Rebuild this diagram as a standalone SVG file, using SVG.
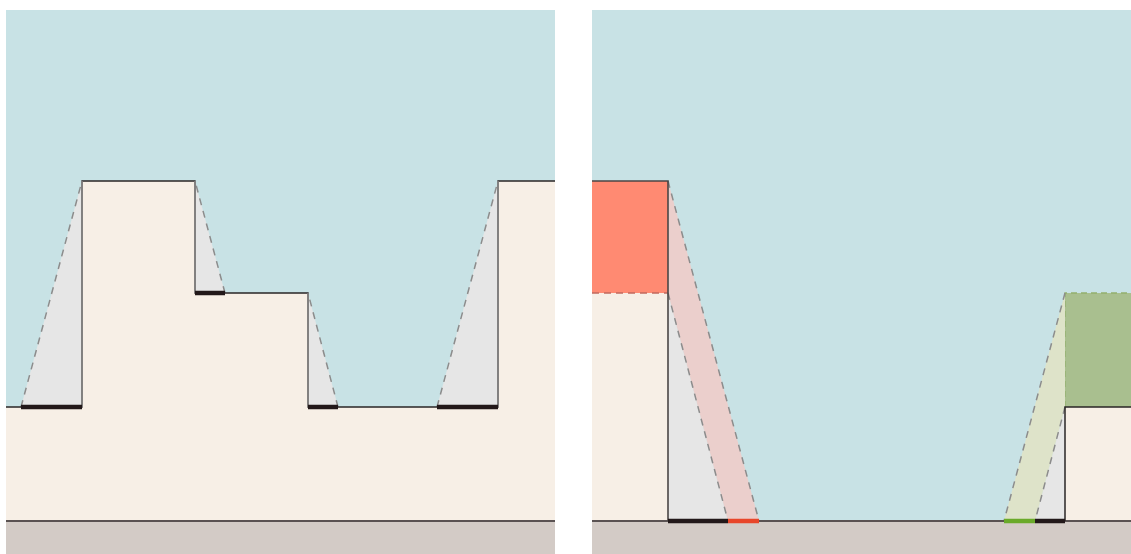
<svg xmlns="http://www.w3.org/2000/svg" width="1131" height="554" viewBox="0 0 1131 554">
<style>
.sky{fill:#c8e2e5}
.cream{fill:#f7efe6}
.ground{fill:#d3cbc6}
.shadow{fill:#e6e6e6}
.outline{fill:none;stroke:#2a2626;stroke-width:1.3}
.vedge{fill:none;stroke:#8a8888;stroke-width:1.5}
.dash{fill:none;stroke:#8c8c8c;stroke-width:1.5;stroke-dasharray:7 6}
.bar{stroke:#221819;stroke-width:4.5}
.gline{stroke:#5a5252;stroke-width:2}
</style>
<rect width="1131" height="554" fill="#ffffff"/>
<g id="left-panel">
  <rect class="sky" x="6" y="10" width="549" height="544"/>
  <polygon class="cream" points="6,407 82,407 82,181 195,181 195,293 308,293 308,407 498,407 498,181 555,181 555,521 6,521"/>
  <rect class="ground" x="6" y="521" width="549" height="33"/>
  <line class="gline" x1="6" y1="521" x2="555" y2="521"/>
  <g id="shadow-1">
    <polygon class="shadow" points="82,181 82,407 21,407"/>
    <line class="dash" x1="21" y1="407" x2="82" y2="181"/>
  </g>
  <g id="shadow-2">
    <polygon class="shadow" points="195,181 195,293 225,293"/>
    <line class="dash" x1="225" y1="293" x2="195" y2="181"/>
  </g>
  <g id="shadow-3">
    <polygon class="shadow" points="308,293 308,407 338,407"/>
    <line class="dash" x1="338" y1="407" x2="308" y2="293"/>
  </g>
  <g id="shadow-4">
    <polygon class="shadow" points="498,181 498,407 437,407"/>
    <line class="dash" x1="437" y1="407" x2="498" y2="181"/>
  </g>
  <polyline class="outline" points="6,407 82,407 82,181 195,181 195,293 308,293 308,407 498,407 498,181 555,181"/>
  <line class="vedge" x1="82" y1="181" x2="82" y2="407"/>
  <line class="vedge" x1="195" y1="181" x2="195" y2="293"/>
  <line class="vedge" x1="308" y1="293" x2="308" y2="407"/>
  <line class="vedge" x1="498" y1="181" x2="498" y2="407"/>
  <g id="bars-left">
    <line class="bar" x1="21" y1="407" x2="82" y2="407"/>
    <line class="bar" x1="195" y1="293" x2="225" y2="293"/>
    <line class="bar" x1="308" y1="407" x2="338" y2="407"/>
    <line class="bar" x1="437" y1="407" x2="498" y2="407"/>
  </g>
</g>
<g id="right-panel">
  <rect class="sky" x="592" y="10" width="539" height="544"/>
  <rect class="ground" x="592" y="521" width="539" height="33"/>
  <g id="left-block">
    <rect class="cream" x="592" y="293" width="76" height="228"/>
    <rect x="592" y="181" width="76" height="112" fill="#ff8a72"/>
    <line x1="592" y1="293" x2="668" y2="293" stroke="#c26a5e" stroke-width="1.3" stroke-dasharray="7 5"/>
  </g>
  <g id="red-shadow">
    <polygon class="shadow" points="668,293 668,521 728,521"/>
    <polygon points="668,181 759,521 728,521 668,293" fill="#ebcfcc"/>
    <line class="dash" x1="668" y1="293" x2="728" y2="521"/>
    <line class="dash" x1="668" y1="181" x2="759" y2="521"/>
  </g>
  <g id="right-block">
    <rect class="cream" x="1065" y="407" width="66" height="114"/>
    <rect x="1065" y="293" width="66" height="114" fill="#a9bf8f"/>
    <polyline points="1065,407 1065,293 1131,293" fill="none" stroke="#93b06e" stroke-width="1.3" stroke-dasharray="6 4"/>
  </g>
  <g id="green-shadow">
    <polygon class="shadow" points="1065,407 1065,521 1035,521"/>
    <polygon points="1065,293 1065,407 1035,521 1004,521" fill="#dee3c9"/>
    <line class="dash" x1="1065" y1="293" x2="1004" y2="521"/>
    <line class="dash" x1="1065" y1="407" x2="1035" y2="521"/>
  </g>
  <line class="gline" x1="592" y1="521" x2="1131" y2="521"/>
  <polyline fill="none" stroke="#4a4646" stroke-width="1.6" points="592,181 668,181 668,521"/>
  <polyline fill="none" stroke="#2a2626" stroke-width="1.5" points="1131,407 1065,407 1065,521"/>
  <g id="bars-right">
    <line class="bar" x1="668" y1="521" x2="728" y2="521"/>
    <line x1="728" y1="521" x2="759" y2="521" stroke="#e8462a" stroke-width="4.5"/>
    <line x1="1004" y1="521" x2="1035" y2="521" stroke="#6aaa2a" stroke-width="4.5"/>
    <line class="bar" x1="1035" y1="521" x2="1065" y2="521"/>
  </g>
</g>
</svg>
